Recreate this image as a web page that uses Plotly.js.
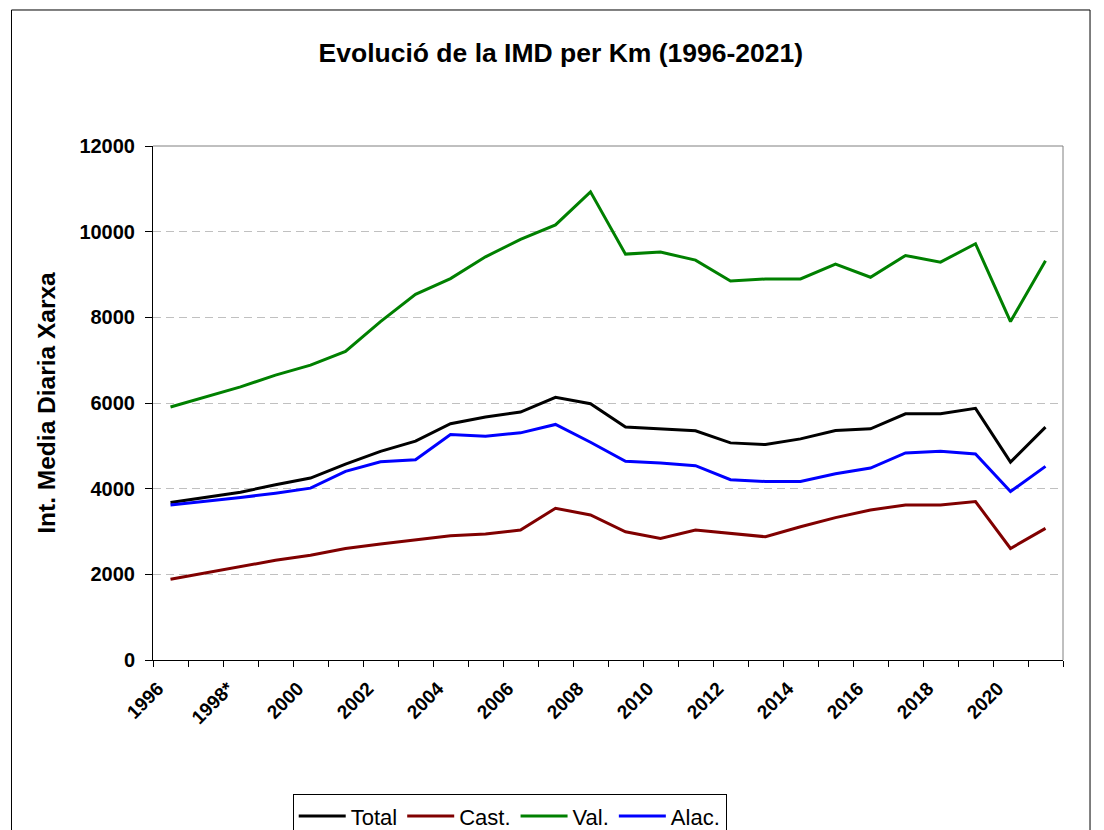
<!DOCTYPE html>
<html>
<head>
<meta charset="utf-8">
<script src="https://cdn.plot.ly/plotly-3.0.1.min.js"></script>
<style>
  html, body { margin: 0; padding: 0; background: #ffffff; }
  #chart { width: 1104px; height: 830px; }
</style>
</head>
<body>
<div id="chart"></div>
<script>
// ---- data ----
const years = [1996, 1997, 1998, 1999, 2000, 2001, 2002, 2003, 2004, 2005, 2006, 2007, 2008,
               2009, 2010, 2011, 2012, 2013, 2014, 2015, 2016, 2017, 2018, 2019, 2020, 2021];
const tickYears = [1996, 1998, 2000, 2002, 2004, 2006, 2008, 2010, 2012, 2014, 2016, 2018, 2020];
const tickLabels = ['1996', '1998*', '2000', '2002', '2004', '2006', '2008', '2010', '2012', '2014', '2016', '2018', '2020'];

const total = [3675, 3793, 3918, 4090, 4247, 4575, 4870, 5108, 5515, 5671, 5789, 6133, 5984,
               5437, 5397, 5350, 5069, 5029, 5162, 5358, 5397, 5749, 5749, 5875, 4622, 5437];
const cast  = [1883, 2031, 2164, 2329, 2446, 2603, 2710, 2798, 2900, 2939, 3033, 3542, 3386,
               2994, 2837, 3033, 2955, 2877, 3112, 3323, 3503, 3620, 3620, 3699, 2603, 3072];
const val   = [5906, 6141, 6376, 6650, 6885, 7206, 7900, 8536, 8904, 9413, 9820, 10157, 10930,
               9476, 9523, 9335, 8850, 8896, 8896, 9241, 8936, 9444, 9288, 9719, 7902, 9319];
const alac  = [3620, 3699, 3793, 3894, 4012, 4403, 4630, 4677, 5264, 5225, 5303, 5499, 5084,
               4638, 4599, 4536, 4208, 4168, 4168, 4348, 4481, 4833, 4873, 4810, 3934, 4521];

const seriesNames = ['Total', 'Cast.', 'Val.', 'Alac.'];
const seriesColors = ['#000000', '#800000', '#008000', '#0000ff'];
const seriesValues = [total, cast, val, alac];

const FONT = 'Liberation Sans, Arial, sans-serif';
const LABEL_SHIFT = 0.36; // rotated labels sit slightly left of the category centre, as in the original

const traces = seriesValues.map((vals, i) => ({
  type: 'scatter',
  mode: 'lines',
  x: years,
  y: vals,
  name: seriesNames[i],
  line: { color: seriesColors[i], width: 3 },
  hoverinfo: 'x+y+name'
}));

const boundaries = years.map(y => y - 0.5).concat([years[years.length - 1] + 0.5]);

const layout = {
  width: 1104,
  height: 830,
  paper_bgcolor: '#ffffff',
  plot_bgcolor: '#ffffff',
  margin: { l: 153, r: 41, t: 146, b: 170, autoexpand: false },
  font: { family: FONT, color: '#000000' },
  title: {
    text: 'Evolució de la IMD per Km (1996-2021)',
    font: { family: FONT, size: 26.5, color: '#000000', weight: 'bold' },
    x: 0.508, xref: 'container', xanchor: 'center',
    y: 0.936, yref: 'container', yanchor: 'middle'
  },
  xaxis: {
    range: [boundaries[0], boundaries[boundaries.length - 1]],
    tickmode: 'array',
    tickvals: tickYears.map(y => y - LABEL_SHIFT),
    ticktext: tickLabels,
    tickangle: -45,
    tickfont: { family: FONT, size: 19, color: '#000000', weight: 'bold' },
    ticks: '',
    ticklabelstandoff: 9,
    showgrid: false,
    zeroline: false,
    showline: true,
    linecolor: '#000000',
    linewidth: 1,
    minor: {
      tickmode: 'array',
      tickvals: boundaries,
      ticks: 'outside',
      ticklen: 6,
      tickcolor: '#000000',
      tickwidth: 1,
      showgrid: false
    },
    automargin: false,
    fixedrange: true
  },
  yaxis: {
    range: [0, 12000],
    tickmode: 'linear',
    tick0: 0,
    dtick: 2000,
    tickformat: 'd',
    tickfont: { family: FONT, size: 20, color: '#000000', weight: 'bold' },
    ticks: 'outside',
    ticklen: 7,
    tickcolor: '#000000',
    ticklabelstandoff: 6,
    showgrid: true,
    gridcolor: '#c0c0c0',
    gridwidth: 1,
    griddash: '8px,5px',
    zeroline: false,
    showline: true,
    linecolor: '#000000',
    linewidth: 1,
    title: {
      text: 'Int. Media Diaria Xarxa',
      font: { family: FONT, size: 24.5, color: '#000000', weight: 'bold' },
      standoff: 16
    },
    automargin: false,
    fixedrange: true
  },
  showlegend: true,
  legend: {
    orientation: 'h',
    x: 0.392, xanchor: 'center',
    y: -0.261, yanchor: 'top',
    font: { family: FONT, size: 22, color: '#000000' },
    bordercolor: '#000000',
    borderwidth: 1,
    bgcolor: '#ffffff',
    itemwidth: 47,
    traceorder: 'normal'
  },
  shapes: [
    // plot area top and right borders (gray)
    { type: 'line', xref: 'paper', yref: 'paper', x0: 0, x1: 1, y0: 1, y1: 1,
      line: { color: '#808080', width: 1 }, layer: 'above' },
    { type: 'line', xref: 'paper', yref: 'paper', x0: 1, x1: 1, y0: 0, y1: 1,
      line: { color: '#808080', width: 1 }, layer: 'above' },
    // outer chart border
    { type: 'rect', xref: 'paper', yref: 'paper', x0: -0.1555, x1: 1.0297, y0: -0.345, y1: 1.2646,
      line: { color: '#000000', width: 1 }, fillcolor: 'rgba(0,0,0,0)', layer: 'below' }
  ]
};

Plotly.newPlot('chart', traces, layout, { displayModeBar: false, staticPlot: false });
</script>
</body>
</html>
